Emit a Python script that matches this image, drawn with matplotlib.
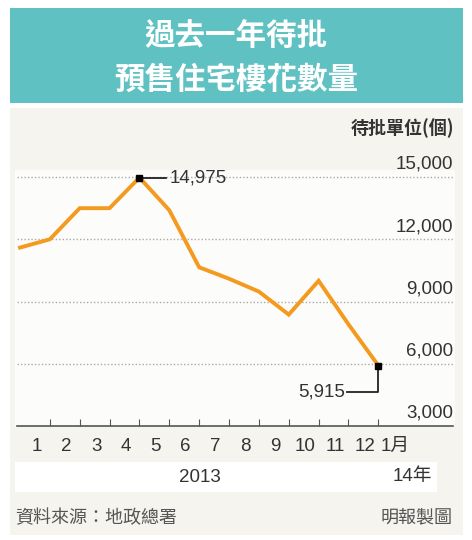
import matplotlib.pyplot as plt
from matplotlib.patches import Rectangle

plt.rcParams['font.family'] = ['Noto Sans CJK TC', 'DejaVu Sans']

months = ["1", "2", "3", "4", "5", "6", "7", "8", "9", "10", "11", "12", "1月"]
values = [11600, 12000, 13500, 13500, 14975, 13400, 10650, 10100, 9480, 8370, 10000, 7900, 5915]
yticks = [3000, 6000, 9000, 12000, 15000]

W, H = 472, 540
fig = plt.figure(figsize=(W / 100, H / 100), dpi=100)
fig.patch.set_facecolor("white")
NUM = ["Liberation Sans", "DejaVu Sans"]


def fx(px):
    return px / W


def fy(py):
    return 1 - py / H


# card background, header band, plot panel, year band
fig.add_artist(Rectangle((fx(10), fy(535)), fx(453), 427 / H, transform=fig.transFigure,
                         facecolor="#f6f4ef", edgecolor="none", zorder=0))
fig.add_artist(Rectangle((fx(10), fy(103)), fx(453), 95 / H, transform=fig.transFigure,
                         facecolor="#5fc1c2", edgecolor="none", zorder=0))
fig.add_artist(Rectangle((fx(15), fy(426)), fx(440), 256 / H, transform=fig.transFigure,
                         facecolor="#fcfcfa", edgecolor="none", zorder=0))
fig.add_artist(Rectangle((fx(15), fy(492)), fx(422), 30 / H, transform=fig.transFigure,
                         facecolor="white", edgecolor="none", zorder=0))

fig.text(fx(236), fy(36), "過去一年待批", ha="center", va="center", color="white",
         fontsize=22, fontweight="bold")
fig.text(fx(236), fy(80), "預售住宅樓花數量", ha="center", va="center", color="white",
         fontsize=22, fontweight="bold")
fig.text(fx(454), fy(128), "待批單位(個)", ha="right", va="center", color="#333333",
         fontsize=13, fontweight="bold")

ax = fig.add_axes([fx(17), fy(426), fx(436), 256 / H])
ax.set_facecolor("none")
x = list(range(len(values)))
ax.plot(x, values, color="#f39a1f", lw=2.8, solid_joinstyle="miter", zorder=3)
ax.set_xlim(-0.1, 14.5)
ax.set_ylim(3000, 15340)
for v in yticks[1:]:
    ax.axhline(v, color="#aaaaaa", lw=1, ls=(0, (1, 1.5)), zorder=1)
for v in yticks:
    ax.text(14.5, v + 200, f"{v:,}", ha="right", va="bottom", fontsize=13.5,
            color="#333333", family=NUM)
for s in ["top", "right", "left"]:
    ax.spines[s].set_visible(False)
ax.spines["bottom"].set_color("#555555")
ax.spines["bottom"].set_linewidth(1.2)
ax.set_yticks([])
ax.set_xticks(range(1, 13))
ax.tick_params(axis="x", direction="in", length=5, color="#555555", labelbottom=False)
for i, m in enumerate(months):
    ax.text(i + 0.55, -0.08, m, transform=ax.get_xaxis_transform(), ha="center",
            va="center", fontsize=13.5, color="#333333",
            family=["Liberation Sans", "Noto Sans CJK TC"])

# annotated points
ax.plot([4, 12], [values[4], values[12]], "s", color="black", ms=4, zorder=4)
ax.plot([4, 4.9], [values[4], values[4]], color="#222222", lw=1.3, zorder=2)
ax.text(5.0, values[4], f"{values[4]:,}", ha="left", va="center", fontsize=13.5,
        color="#333333", family=NUM)
ax.plot([12, 12, 10.95], [values[12], 4650, 4650], color="#222222", lw=1.3, zorder=2)
ax.text(10.9, 4650, f"{values[12]:,}", ha="right", va="center", fontsize=13.5,
        color="#333333", family=NUM)

fig.text(fx(200), fy(477), "2013", ha="center", va="center", fontsize=13.5, color="#333333",
         family=NUM)
fig.text(fx(432), fy(477), "14年", ha="right", va="center", fontsize=13.5, color="#333333",
         family=["Liberation Sans", "Noto Sans CJK TC"])
fig.text(fx(15), fy(518), "資料來源：地政總署", ha="left", va="center", fontsize=13,
         color="#555555")
fig.text(fx(453), fy(518), "明報製圖", ha="right", va="center", fontsize=13,
         color="#555555")

fig.savefig("out.png", dpi=100)
